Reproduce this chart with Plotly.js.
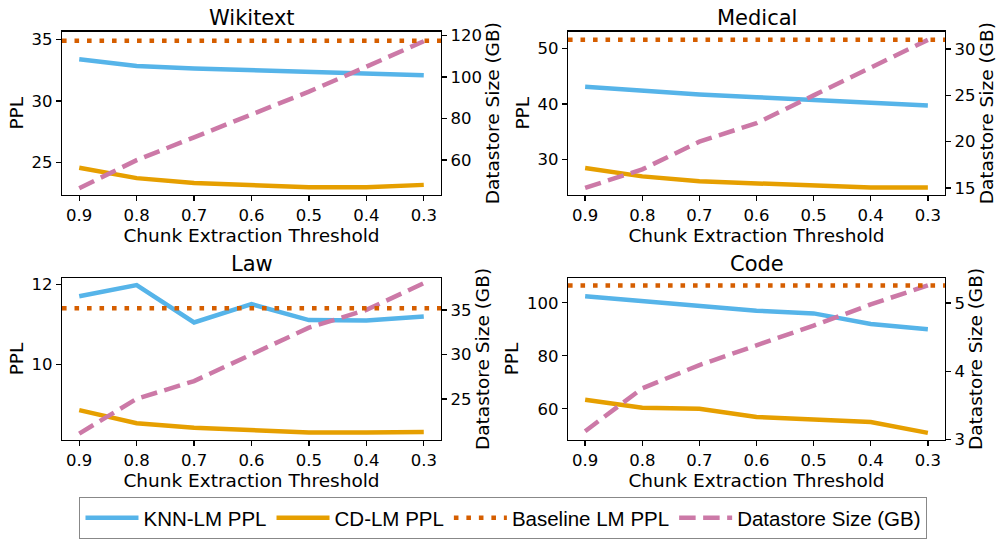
<!DOCTYPE html>
<html>
<head>
<meta charset="utf-8">
<script src="https://cdn.plot.ly/plotly-3.0.1.min.js"></script>
<style>html,body{margin:0;padding:0;background:#fff;}#chart{width:997px;height:539px;}</style>
</head>
<body>
<div id="chart"></div>
<script>
// ---- data ----
const thresholds = ["0.9", "0.8", "0.7", "0.6", "0.5", "0.4", "0.3"];
const subplotTitles = ["Wikitext", "Medical", "Law", "Code"];

const wikiKnn = [33.4, 32.85, 32.65, 32.5, 32.4, 32.25, 32.1];
const wikiCd = [24.55, 23.7, 23.3, 23.1, 22.95, 22.95, 23.15];
const wikiBase = 34.9;
const wikiSize = [46.5, 60, 71, 82, 93, 105, 117.3];

const medKnn = [43.1, 42.3, 41.7, 41.2, 40.7, 40.2, 39.7];
const medCd = [28.4, 26.9, 26.0, 25.6, 25.3, 24.9, 24.9];
const medBase = 51.6;
const medSize = [15, 17, 20, 22, 25, 28, 31];

const lawKnn = [11.71, 11.99, 11.05, 11.51, 11.11, 11.1, 11.2];
const lawCd = [8.85, 8.52, 8.41, 8.36, 8.29, 8.29, 8.3];
const lawBase = 11.41;
const lawSize = [21.1, 25, 27, 30, 33, 35, 38];

const codeKnn = [102.5, 100.6, 99.1, 97.0, 96.0, 92.0, 90.0];
const codeCd = [63.4, 60.4, 60.0, 56.9, 56.0, 55.0, 50.9];
const codeBase = 106.5;
const codeSize = [3.12, 3.75, 4.09, 4.38, 4.67, 4.98, 5.26];

const seriesNames = ["KNN-LM PPL", "CD-LM PPL", "Baseline LM PPL", "Datastore Size (GB)"];

// ---- styling / layout ----
const W = 997, H = 539;
const colors = {knn: "#56B4E9", cd: "#E69F00", base: "#D55E00", size: "#CC79A7"};
const LW = 4.5;
const FONT = "DejaVu Sans, sans-serif";
const TICK = 16.5, ATITLE = 18.5, PTITLE = 21;

const panels = [
  {knn: wikiKnn, cd: wikiCd, base: wikiBase, size: wikiSize,
   px: [62, 441], py: [32, 197], yl: [22.34, 35.65], yr: [43.3, 121.9],
   tl: [25, 30, 35], tr: [60, 80, 100, 120]},
  {knn: medKnn, cd: medCd, base: medBase, size: medSize,
   px: [568, 945], py: [32, 197], yl: [23.57, 53.05], yr: [14.25, 31.89],
   tl: [30, 40, 50], tr: [15, 20, 25, 30]},
  {knn: lawKnn, cd: lawCd, base: lawBase, size: lawSize,
   px: [62, 441], py: [281, 445], yl: [8.10, 12.17], yr: [20.37, 38.6],
   tl: [10, 12], tr: [25, 30, 35]},
  {knn: codeKnn, cd: codeCd, base: codeBase, size: codeSize,
   px: [568, 945], py: [281, 445], yl: [48.2, 109.4], yr: [2.99, 5.37],
   tl: [60, 80, 100], tr: [3, 4, 5]}
];

const traces = [];
const shapes = [];
const annotations = [];
const layout = {
  width: W, height: H,
  margin: {l: 0, r: 0, t: 0, b: 0},
  paper_bgcolor: "#fff", plot_bgcolor: "#fff",
  font: {family: FONT, color: "#000", size: TICK},
  showlegend: true,
  legend: {
    orientation: "h", x: 0.505, xanchor: "center", y: 1 - 503 / H, yanchor: "top",
    bordercolor: "#888", borderwidth: 1, bgcolor: "#fff",
    font: {family: "Liberation Sans, Arial, sans-serif", size: 20.5, color: "#000"},
    itemwidth: 53, traceorder: "normal"
  }
};

const axBase = {
  showline: true, linecolor: "#000", linewidth: 1.3,
  ticks: "outside", ticklen: 5, tickwidth: 1.3, tickcolor: "#000",
  showgrid: false, zeroline: false,
  tickfont: {family: FONT, size: TICK, color: "#000"}
};

panels.forEach((p, i) => {
  const xn = i === 0 ? "x" : "x" + (i + 1);
  const yl = 2 * i + 1, yr = 2 * i + 2;
  const yln = yl === 1 ? "y" : "y" + yl;
  const yrn = "y" + yr;
  const xdom = [p.px[0] / W, p.px[1] / W];
  const ydom = [1 - p.py[1] / H, 1 - p.py[0] / H];

  layout["xaxis" + (i === 0 ? "" : i + 1)] = Object.assign({}, axBase, {
    domain: xdom, anchor: yln, type: "category",
    categoryorder: "array", categoryarray: thresholds,
    range: [-0.3, 6.3], mirror: true,
    title: {text: "Chunk Extraction Threshold", font: {family: FONT, size: ATITLE, color: "#000"}, standoff: 2}
  });
  layout["yaxis" + (yl === 1 ? "" : yl)] = Object.assign({}, axBase, {
    domain: ydom, anchor: xn, range: p.yl, tickvals: p.tl,
    title: {text: "PPL", font: {family: FONT, size: ATITLE, color: "#000"}, standoff: 3}
  });
  layout["yaxis" + yr] = Object.assign({}, axBase, {
    overlaying: yln, side: "right", anchor: xn, range: p.yr, tickvals: p.tr,
    title: {text: "Datastore Size (GB)", font: {family: FONT, size: ATITLE, color: "#000"}, standoff: 3}
  });

  traces.push({
    type: "scatter", mode: "lines", x: thresholds, y: p.knn, xaxis: xn, yaxis: yln,
    name: seriesNames[0], legendgroup: "knn", showlegend: i === 0, legendrank: 1,
    line: {color: colors.knn, width: LW}, hoverinfo: "skip"
  });
  traces.push({
    type: "scatter", mode: "lines", x: thresholds, y: p.cd, xaxis: xn, yaxis: yln,
    name: seriesNames[1], legendgroup: "cd", showlegend: i === 0, legendrank: 2,
    line: {color: colors.cd, width: LW}, hoverinfo: "skip"
  });
  traces.push({
    type: "scatter", mode: "lines", x: thresholds, y: p.size, xaxis: xn, yaxis: yrn,
    name: seriesNames[3], legendgroup: "size", showlegend: i === 0, legendrank: 4,
    line: {color: colors.size, width: LW, dash: "16.5px,7.5px"}, hoverinfo: "skip"
  });

  shapes.push({
    type: "line", xref: xn + " domain", yref: yln, x0: 0, x1: 1, y0: p.base, y1: p.base,
    line: {color: colors.base, width: LW, dash: "4.6px,7.9px"}, layer: "above",
    name: seriesNames[2], showlegend: i === 0, legendgroup: "base", legendrank: 3
  });

  annotations.push({
    text: subplotTitles[i], xref: "paper", yref: "paper",
    x: (xdom[0] + xdom[1]) / 2, y: 1 - (p.py[0] - 14) / H, xanchor: "center", yanchor: "middle",
    showarrow: false, font: {family: FONT, size: PTITLE, color: "#000"}
  });
});

layout.shapes = shapes;
layout.annotations = annotations;

Plotly.newPlot("chart", traces, layout, {staticPlot: true, displayModeBar: false});
</script>
</body>
</html>
